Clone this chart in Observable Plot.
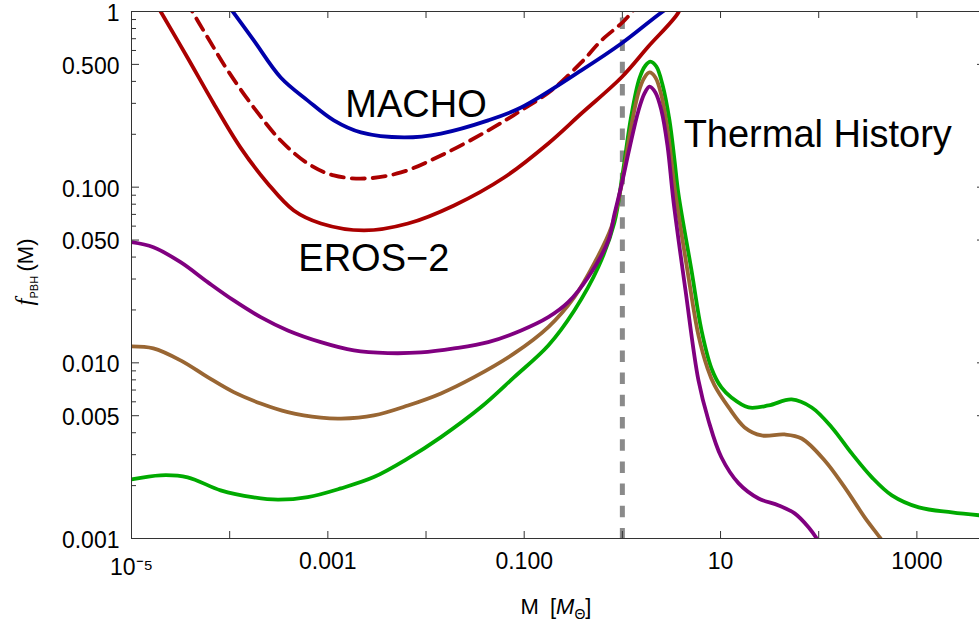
<!DOCTYPE html>
<html><head><meta charset="utf-8">
<script src="https://cdn.jsdelivr.net/npm/d3@7"></script>
<script src="https://cdn.jsdelivr.net/npm/@observablehq/plot@0.6"></script>
<style>
html,body{margin:0;padding:0;background:#fff;overflow:hidden;}
</style></head><body><div id="chart"></div>
<script>
// ---- data (M in solar masses, f = f_PBH) ----
const machoM = [8.9e-5, 1.76e-4, 3.31e-4, 6.25e-4, 1.15e-3, 2.17e-3, 5.97e-3, 1.42e-2, 4.30e-2, 9.31e-2, 0.382, 0.977, 2.50, 3.82];
const machoF = [1.155, 0.684, 0.421, 0.311, 0.240, 0.205, 0.192, 0.202, 0.240, 0.284, 0.462, 0.657, 0.987, 1.155];

const erosM = [1.70e-5, 1.98e-5, 3.70e-5, 6.87e-5, 1.29e-4, 2.44e-4, 4.50e-4, 8.49e-4, 2.33e-3, 6.55e-3, 1.93e-2, 6.25e-2, 0.176, 0.382, 0.977, 1.84, 3.72, 4.09];
const erosF = [1.155, 1.0, 0.549, 0.2995, 0.168, 0.105, 0.0736, 0.0621, 0.0567, 0.0621, 0.0787, 0.1135, 0.1774, 0.2627, 0.421, 0.632, 0.987, 1.155];

const erosDashM = [3.57e-5, 5.97e-5, 9.55e-5, 1.76e-4, 3.31e-4, 6.25e-4, 1.15e-3, 2.44e-3, 5.56e-3, 1.42e-2, 4.30e-2, 9.31e-2, 0.189, 0.382, 0.611, 1.05, 1.56];
const erosDashF = [1.155, 0.711, 0.462, 0.284, 0.1844, 0.1364, 0.1166, 0.1121, 0.1213, 0.1515, 0.2103, 0.2733, 0.355, 0.513, 0.684, 0.889, 1.155];

const purpleM = [1e-5, 1.67e-5, 3.16e-5, 5.97e-5, 1.10e-4, 2.07e-4, 3.91e-4, 8.49e-4, 1.84e-3, 4.09e-3, 8.89e-3, 1.93e-2, 4.30e-2, 9.31e-2, 0.176, 0.281, 0.450, 0.720, 0.829, 0.977, 1.18, 1.46, 1.68, 1.89, 2.17, 2.50, 2.88, 3.31, 4.40, 5.96, 7.54, 10.2, 15.3, 24.4, 39.1, 56.9, 79.1, 95.5, 107];
const purpleF = [0.0486, 0.0455, 0.0374, 0.0288, 0.02265, 0.0182, 0.01529, 0.01312, 0.01177, 0.01136, 0.01146, 0.01208, 0.01312, 0.01529, 0.0182, 0.02215, 0.0308, 0.0497, 0.0699, 0.1022, 0.166, 0.2733, 0.3414, 0.374, 0.346, 0.2733, 0.1727, 0.084, 0.0258, 0.00794, 0.0047, 0.0029, 0.00206, 0.00169, 0.001543, 0.00139, 0.001156, 0.001, 0.0009];

const brownM = [1e-5, 1.67e-5, 3.16e-5, 5.97e-5, 1.10e-4, 2.07e-4, 3.91e-4, 8.49e-4, 1.36e-3, 2.94e-3, 6.55e-3, 1.42e-2, 3.09e-2, 7.91e-2, 0.176, 0.324, 0.517, 0.773, 0.977, 1.21, 1.46, 1.68, 1.89, 2.17, 2.50, 2.94, 3.40, 4.60, 5.96, 7.37, 8.69, 12.1, 17.6, 26.2, 45.0, 67.1, 115, 184, 294, 419, 494];
const brownF = [0.0124, 0.01208, 0.01032, 0.00829, 0.00681, 0.00587, 0.00524, 0.00487, 0.00481, 0.00502, 0.00572, 0.0067, 0.00829, 0.01131, 0.01597, 0.02366, 0.0368, 0.0592, 0.1022, 0.2103, 0.346, 0.421, 0.4497, 0.421, 0.3325, 0.197, 0.0996, 0.0336, 0.01432, 0.00929, 0.00743, 0.00557, 0.00429, 0.00386, 0.00391, 0.00371, 0.00278, 0.001954, 0.00132, 0.001015, 0.00089];

const greenM = [1e-5, 1.98e-5, 3.73e-5, 8.09e-5, 1.76e-4, 3.09e-4, 6.25e-4, 1.36e-3, 2.94e-3, 6.55e-3, 1.42e-2, 3.64e-2, 7.91e-2, 0.176, 0.324, 0.569, 0.829, 1.0, 1.235, 1.49, 1.72, 1.93, 2.22, 2.56, 3.02, 3.40, 3.72, 5.06, 6.40, 8.09, 10.2, 12.9, 19.3, 30.9, 53.0, 84.9, 136, 217, 348, 556, 1047, 2275, 4500];
const greenF = [0.00217, 0.00229, 0.00223, 0.00188, 0.001714, 0.001663, 0.00172, 0.00193, 0.002236, 0.002856, 0.003777, 0.0056, 0.00829, 0.01256, 0.01987, 0.0351, 0.063, 0.1166, 0.256, 0.4155, 0.493, 0.519, 0.486, 0.384, 0.240, 0.1419, 0.0921, 0.0336, 0.01529, 0.00929, 0.00724, 0.00635, 0.00557, 0.00572, 0.00619, 0.00557, 0.00429, 0.00305, 0.00223, 0.00176, 0.001503, 0.001408, 0.001353];

const thresholdM = [1];

const labelNames = ["MACHO", "EROS\u22122", "Thermal History"];
const labelM = [7.9e-3, 2.94e-3, 97.7];
const labelF = [0.296, 0.0393, 0.198];

const xMajorTicks = [1e-5, 1e-4, 1e-3, 1e-2, 1e-1, 1, 10, 100, 1000];
const xLabelTicks = [1e-3, 0.1, 10, 1000];
const xTickLabels = ["0.001", "0.100", "10", "1000"];
const xFirstTick = [1e-5];
const xFirstLabel = "10\u207B\u2075";
const yLabelTicks = [0.001, 0.005, 0.01, 0.05, 0.1, 0.5, 1];
const yTickLabels = ["0.001", "0.005", "0.010", "0.050", "0.100", "0.500", "1"];
const yMinorTicks = [0.002, 0.003, 0.004, 0.006, 0.007, 0.008, 0.009,
                     0.02, 0.03, 0.04, 0.06, 0.07, 0.08, 0.09,
                     0.2, 0.3, 0.4, 0.6, 0.7, 0.8, 0.9];

// ---- build tables ----
const toRows = (ms, fs) => ms.map((m, i) => ({M: m, f: fs[i]}));
const macho = toRows(machoM, machoF);
const eros = toRows(erosM, erosF);
const erosDash = toRows(erosDashM, erosDashF);
const purple = toRows(purpleM, purpleF);
const brown = toRows(brownM, brownF);
const green = toRows(greenM, greenF);
const labels = labelNames.map((t, i) => ({text: t, M: labelM[i], f: labelF[i]}));

const xLab = new Map(xLabelTicks.map((d, i) => [d, xTickLabels[i]]));
const yLab = new Map(yLabelTicks.map((d, i) => [d, yTickLabels[i]]));

const FRAME_H = 527, FRAME_W = 854;
const lineOpts = (stroke, extra = {}) => ({x: "M", y: "f", stroke, strokeWidth: 3.8, curve: "catmull-rom", clip: true, ...extra});

const chart = Plot.plot({
  width: 979, height: 630,
  marginTop: 11, marginBottom: 92, marginLeft: 131, marginRight: -6,
  style: {fontFamily: "'Liberation Sans', Arial, sans-serif", background: "#fff", color: "#000", overflow: "hidden"},
  x: {type: "log", domain: [1e-5, 5000]},
  y: {type: "log", domain: [0.001, 1]},
  marks: [
    Plot.ruleX(thresholdM, {stroke: "#8a8a8a", strokeWidth: 5, strokeDasharray: "11.5,10.7", strokeDashoffset: -6.4}),
    Plot.line(green, lineOpts("#00aa00")),
    Plot.line(brown, lineOpts("#996633")),
    Plot.line(purple, lineOpts("#800080")),
    Plot.line(erosDash, lineOpts("#aa0000", {strokeDasharray: "13,8"})),
    Plot.line(eros, lineOpts("#aa0000")),
    Plot.line(macho, lineOpts("#0000aa")),
    Plot.frame({stroke: "#333"}),
    Plot.tickX(xMajorTicks, {x: d => d, insetTop: FRAME_H - 7, stroke: "#333"}),
    Plot.tickX(xMajorTicks, {x: d => d, insetBottom: FRAME_H - 7, stroke: "#333"}),
    Plot.tickY(yLabelTicks, {y: d => d, insetRight: FRAME_W - 8, stroke: "#333"}),
    Plot.tickY(yMinorTicks, {y: d => d, insetRight: FRAME_W - 5, stroke: "#333"}),
    Plot.tickY(yLabelTicks, {y: d => d, insetLeft: FRAME_W - 8, stroke: "#333"}),
    Plot.tickY(yMinorTicks, {y: d => d, insetLeft: FRAME_W - 5, stroke: "#333"}),
    Plot.axisX(xLabelTicks, {tickSize: 0, tickPadding: 14, tickFormat: d => xLab.get(d), fontSize: 23, label: null, fill: "#000"}),
    Plot.axisX(xFirstTick, {tickSize: 0, tickPadding: 20, tickFormat: () => xFirstLabel, fontSize: 23, label: null, fill: "#000"}),
    Plot.axisY(yLabelTicks, {tickSize: 0, tickPadding: 12, tickFormat: d => yLab.get(d), fontSize: 23, dy: 2, label: null, fill: "#000"}),
    Plot.text(labels, {x: "M", y: "f", text: "text", fontSize: 38, fill: "#000"})
  ]
});

// axis titles
const s = d3.select(chart);
const yt = s.append("text")
  .attr("transform", "translate(33,272) rotate(-90)")
  .attr("text-anchor", "middle")
  .attr("font-size", 22)
  .attr("fill", "#000");
yt.append("tspan").attr("font-family", "'Liberation Serif', serif").attr("font-style", "italic").attr("font-size", 25).text("f");
yt.append("tspan").attr("font-size", 11).attr("dy", 5).text("PBH");
yt.append("tspan").attr("dy", -5).text("\u2009(M)");

const xt = s.append("text")
  .attr("x", 556).attr("y", 614)
  .attr("text-anchor", "middle")
  .attr("font-size", 22)
  .attr("fill", "#000");
xt.append("tspan").text("M\u2002[");
xt.append("tspan").attr("font-style", "italic").text("M");
xt.append("tspan").attr("font-size", 14).attr("dy", 5).text("\u0398");
xt.append("tspan").attr("dy", -5).text("]");

document.getElementById("chart").append(chart);
</script>
</body></html>
